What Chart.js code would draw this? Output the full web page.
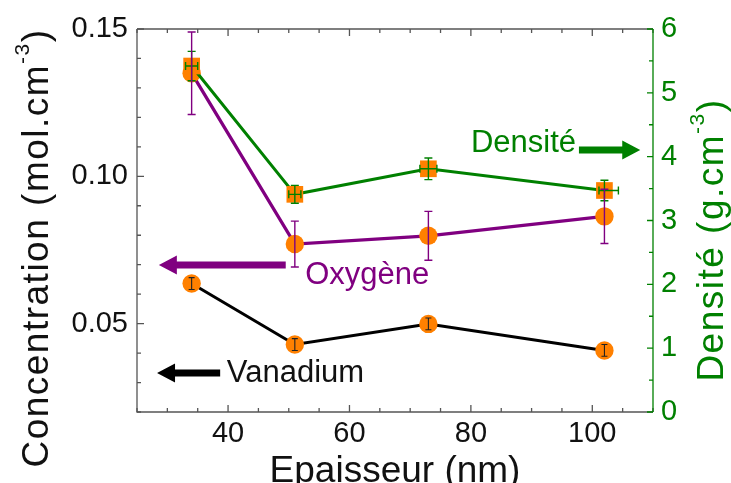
<!DOCTYPE html>
<html lang="fr">
<head>
  <meta charset="UTF-8">
  <title>Concentration et densité</title>
  <style>
    html, body { margin: 0; padding: 0; background: #fff; }
    canvas { display: block; }
  </style>
</head>
<body>
  <canvas id="chart" width="731" height="483"></canvas>

  <script src="https://cdn.jsdelivr.net/npm/chart.js@4"></script>
  <script>
    // data
    const thickness = [34, 51, 73, 102];           // nm
    const vanadium = [0.0636, 0.0429, 0.0499, 0.0409];
    const vanadiumErr = [0.002, 0.002, 0.002, 0.002];
    const oxygene = [0.135, 0.077, 0.0798, 0.0864];
    const oxygeneErr = [0.014, 0.0078, 0.0083, 0.0092];
    const densite = [5.42, 3.41, 3.81, 3.47];       // g.cm-3
    const densiteErr = [0.23, 0.14, 0.17, 0.16];
    const densiteXErrMinus = [1, 1, 1.4, 0.9];
    const densiteXErrPlus = [1, 1, 1.4, 2.3];

    const xTicks = [40, 60, 80, 100];
    const concTicks = [0.05, 0.10, 0.15];
    const densTicks = [0, 1, 2, 3, 4, 5, 6];

    const FONT = '"Liberation Sans", Arial, sans-serif';
    const GREEN = '#008000';
    const PURPLE = '#800080';
    const ORANGE = '#ff8000';
    const FRAME = '#555';

    // text labels and arrows, placed in data units (x in nm, y in mol.cm-3)
    const labels = [
      { text: 'Densité', x: 80.0, y: 0.1083, color: GREEN },
      { text: 'Oxygène', x: 52.7, y: 0.0635, color: PURPLE },
      { text: 'Vanadium', x: 39.8, y: 0.0302, color: '#111' }
    ];
    const arrows = [
      { from: 97.8, to: 107.9, y: 0.1089, color: GREEN },
      { from: 49.5, to: 28.6, y: 0.0699, color: PURPLE },
      { from: 38.7, to: 28.3, y: 0.0332, color: '#000' }
    ];

    const pts = ys => thickness.map((x, i) => ({ x: x, y: ys[i] }));

    // inward ticks (major + minor) and the frame
    const frameTicks = {
      id: 'frameTicks',
      afterDraw(chart) {
        const { ctx, chartArea: a, scales } = chart;
        const x = scales.x, yl = scales.yConc, yr = scales.yDens;
        ctx.save();
        ctx.lineWidth = 1.3;
        ctx.strokeStyle = FRAME;
        ctx.beginPath();
        for (let k = 0; k <= 17; k++) {
          const v = 25 + k * 5;
          const px = x.getPixelForValue(v);
          const len = v % 20 === 0 ? 7 : 4;
          ctx.moveTo(px, a.bottom); ctx.lineTo(px, a.bottom - len);
          ctx.moveTo(px, a.top); ctx.lineTo(px, a.top + len);
        }
        for (let k = 0; k <= 13; k++) {
          const v = 0.02 + k * 0.01;
          const py = yl.getPixelForValue(v);
          const len = (k + 2) % 5 === 0 ? 7 : 4;
          ctx.moveTo(a.left, py); ctx.lineTo(a.left + len, py);
        }
        ctx.stroke();
        ctx.beginPath();
        ctx.moveTo(a.left, a.top); ctx.lineTo(a.right, a.top);
        ctx.moveTo(a.left, a.top); ctx.lineTo(a.left, a.bottom);
        ctx.lineTo(a.right, a.bottom);
        ctx.stroke();

        ctx.strokeStyle = GREEN;
        ctx.beginPath();
        for (let k = 0; k <= 12; k++) {
          const py = yr.getPixelForValue(k * 0.5);
          const len = k % 2 === 0 ? 6 : 4;
          ctx.moveTo(a.right, py); ctx.lineTo(a.right - len, py);
        }
        ctx.moveTo(a.right, a.top); ctx.lineTo(a.right, a.bottom);
        ctx.stroke();
        ctx.restore();
      }
    };

    const errorBars = {
      id: 'errorBars',
      afterDatasetsDraw(chart) {
        const ctx = chart.ctx;
        const xs = chart.scales.x;
        chart.data.datasets.forEach(ds => {
          const ys = chart.scales[ds.yAxisID];
          ctx.save();
          ctx.strokeStyle = ds.errColor;
          ctx.lineWidth = ds.errWidth;
          ctx.beginPath();
          ds.data.forEach((p, i) => {
            const px = xs.getPixelForValue(p.x);
            const py = ys.getPixelForValue(p.y);
            const c = ds.capWidth / 2;
            if (ds.yErr) {
              const t = ys.getPixelForValue(p.y + ds.yErr[i]);
              const b = ys.getPixelForValue(p.y - ds.yErr[i]);
              ctx.moveTo(px, t); ctx.lineTo(px, b);
              ctx.moveTo(px - c, t); ctx.lineTo(px + c, t);
              ctx.moveTo(px - c, b); ctx.lineTo(px + c, b);
            }
            if (ds.xErrMinus) {
              const l = xs.getPixelForValue(p.x - ds.xErrMinus[i]);
              const r = xs.getPixelForValue(p.x + ds.xErrPlus[i]);
              ctx.moveTo(l, py); ctx.lineTo(r, py);
              ctx.moveTo(l, py - c); ctx.lineTo(l, py + c);
              ctx.moveTo(r, py - c); ctx.lineTo(r, py + c);
            }
          });
          ctx.stroke();
          ctx.restore();
        });
      }
    };

    function drawArrow(ctx, x1, x2, y, color) {
      const dir = x2 > x1 ? 1 : -1;
      const head = 18, halfH = 9.5, halfS = 3.5;
      const base = x2 - dir * head;
      ctx.fillStyle = color;
      ctx.beginPath();
      ctx.moveTo(x1, y - halfS);
      ctx.lineTo(base, y - halfS);
      ctx.lineTo(base, y - halfH);
      ctx.lineTo(x2, y);
      ctx.lineTo(base, y + halfH);
      ctx.lineTo(base, y + halfS);
      ctx.lineTo(x1, y + halfS);
      ctx.closePath();
      ctx.fill();
    }

    // rotated title with a superscript part, reading bottom to top
    function rotatedTitle(ctx, parts, baseX, centerY, color) {
      ctx.save();
      ctx.translate(baseX, centerY);
      ctx.rotate(-Math.PI / 2);
      ctx.fillStyle = color;
      ctx.textBaseline = 'alphabetic';
      ctx.textAlign = 'left';
      if ('letterSpacing' in ctx) ctx.letterSpacing = '1.5px';
      let total = 0;
      parts.forEach(p => { ctx.font = p.size + 'px ' + FONT; p.w = ctx.measureText(p.text).width; total += p.w; });
      let pos = -total / 2;
      parts.forEach(p => {
        ctx.font = p.size + 'px ' + FONT;
        ctx.fillText(p.text, pos, -p.raise);
        pos += p.w;
      });
      ctx.restore();
    }

    const decorations = {
      id: 'decorations',
      afterDraw(chart) {
        const { ctx, chartArea: a, scales } = chart;
        const x = scales.x, y = scales.yConc;
        ctx.save();
        arrows.forEach(ar => drawArrow(ctx, x.getPixelForValue(ar.from), x.getPixelForValue(ar.to), y.getPixelForValue(ar.y), ar.color));
        ctx.font = '31px ' + FONT;
        ctx.textBaseline = 'alphabetic';
        ctx.textAlign = 'left';
        labels.forEach(l => {
          ctx.fillStyle = l.color;
          ctx.fillText(l.text, x.getPixelForValue(l.x), y.getPixelForValue(l.y));
        });

        ctx.fillStyle = '#111';
        ctx.font = '37px ' + FONT;
        ctx.textAlign = 'center';
        ctx.fillText('Epaisseur (nm)', (a.left + a.right) / 2, 482);
        ctx.restore();

        rotatedTitle(ctx, [
          { text: 'Concentration (mol.cm', size: 37, raise: 0 },
          { text: '-3', size: 21, raise: 19 },
          { text: ')', size: 37, raise: 0 }
        ], 48, 248, '#111');
        rotatedTitle(ctx, [
          { text: 'Densité (g.cm', size: 37, raise: 0 },
          { text: '-3', size: 21, raise: 19 },
          { text: ')', size: 37, raise: 0 }
        ], 723, 240, GREEN);
      }
    };

    Chart.defaults.font.family = FONT;

    const ctx = document.getElementById('chart').getContext('2d');
    new Chart(ctx, {
      type: 'scatter',
      data: {
        datasets: [
          {
            label: 'Densité',
            data: pts(densite),
            yAxisID: 'yDens',
            showLine: true,
            borderColor: GREEN,
            borderWidth: 3,
            pointStyle: 'rect',
            pointRadius: 11.8,
            pointBackgroundColor: ORANGE,
            pointBorderWidth: 0,
            errColor: GREEN,
            errWidth: 1.4,
            capWidth: 8,
            yErr: densiteErr,
            xErrMinus: densiteXErrMinus,
            xErrPlus: densiteXErrPlus
          },
          {
            label: 'Oxygène',
            data: pts(oxygene),
            yAxisID: 'yConc',
            showLine: true,
            borderColor: PURPLE,
            borderWidth: 3.3,
            pointRadius: 9.2,
            pointBackgroundColor: ORANGE,
            pointBorderWidth: 0,
            errColor: PURPLE,
            errWidth: 1.4,
            capWidth: 8,
            yErr: oxygeneErr
          },
          {
            label: 'Vanadium',
            data: pts(vanadium),
            yAxisID: 'yConc',
            showLine: true,
            borderColor: '#000',
            borderWidth: 3,
            pointRadius: 9.2,
            pointBackgroundColor: ORANGE,
            pointBorderWidth: 0,
            errColor: '#222',
            errWidth: 1.1,
            capWidth: 6,
            yErr: vanadiumErr
          }
        ]
      },
      options: {
        responsive: false,
        animation: false,
        layout: { padding: { top: 29, left: 0, right: 0, bottom: 0 } },
        plugins: {
          legend: { display: false },
          tooltip: { enabled: false }
        },
        elements: { line: { tension: 0 } },
        scales: {
          x: {
            type: 'linear',
            position: 'bottom',
            min: 25,
            max: 110,
            grid: { display: false, drawTicks: false },
            border: { display: false },
            afterBuildTicks: s => { s.ticks = xTicks.map(v => ({ value: v })); },
            afterFit: s => { s.height = 71; },
            ticks: {
              color: '#111',
              font: { size: 29 },
              padding: 5,
              maxRotation: 0,
              callback: v => String(v)
            }
          },
          yConc: {
            type: 'linear',
            position: 'left',
            min: 0.02,
            max: 0.15,
            grid: { display: false, drawTicks: false },
            border: { display: false },
            afterBuildTicks: s => { s.ticks = concTicks.map(v => ({ value: v })); },
            afterFit: s => { s.width = 137; },
            ticks: {
              color: '#111',
              font: { size: 29 },
              padding: 9,
              callback: v => v.toFixed(2)
            }
          },
          yDens: {
            type: 'linear',
            position: 'right',
            min: 0,
            max: 6,
            grid: { display: false, drawTicks: false },
            border: { display: false },
            afterBuildTicks: s => { s.ticks = densTicks.map(v => ({ value: v })); },
            afterFit: s => { s.width = 78; },
            ticks: {
              color: GREEN,
              font: { size: 29 },
              padding: 8,
              callback: v => String(v)
            }
          }
        }
      },
      plugins: [frameTicks, errorBars, decorations]
    });
  </script>
</body>
</html>
